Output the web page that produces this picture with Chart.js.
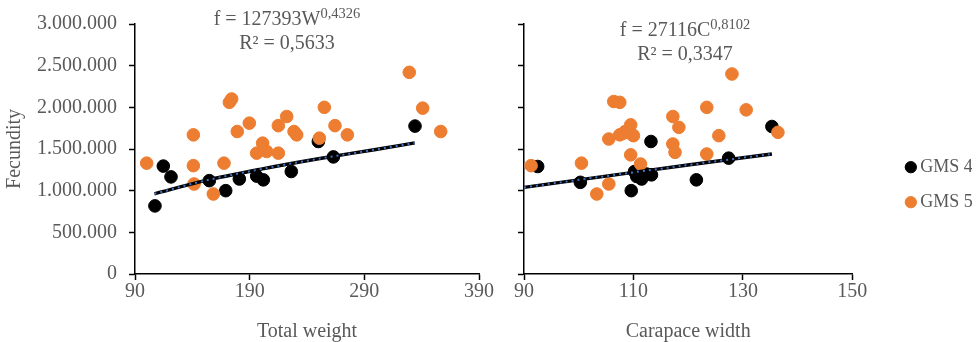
<!DOCTYPE html>
<html>
<head>
<meta charset="utf-8">
<script src="https://cdn.jsdelivr.net/npm/chart.js@4.4.1/dist/chart.umd.min.js"></script>
<style>
  body { margin: 0; background: #fff; }
  #wrap { position: relative; width: 979px; height: 342px; }
  #c1 { position: absolute; left: 0; top: 0; }
  #c2 { position: absolute; left: 500px; top: 0; }
</style>
</head>
<body>
<div id="wrap">
  <canvas id="c1" width="500" height="342"></canvas>
  <canvas id="c2" width="479" height="342"></canvas>
</div>
<script>
// chart data
const seriesNames = ['GMS 4', 'GMS 5'];

// total weight vs fecundity
const weightGms4 = [107.4, 114.7, 121.4, 154.8, 169.1, 181.0, 196.1, 201.9, 226.3, 249.9, 263.0, 334.2];
const fecWGms4   = [817000, 1295000, 1165000, 1120000, 1000000, 1140000, 1175000, 1130000, 1230000, 1590000, 1405000, 1775000];
const weightGms5 = [100.2, 140.9, 140.9, 141.5, 158.3, 167.6, 172.3, 174.3, 179.2, 189.7, 196.1, 201.3, 204.8,
                    215.0, 215.0, 222.3, 228.7, 231.0, 250.8, 255.1, 264.4, 275.2, 329.2, 340.9, 356.6];
const fecWGms5   = [1330000, 1670000, 1300000, 1080000, 960000, 1330000, 2060000, 2100000, 1710000, 1810000, 1450000, 1570000, 1470000,
                    1780000, 1450000, 1890000, 1710000, 1670000, 1630000, 2000000, 1780000, 1670000, 2420000, 1990000, 1710000];
const trendWx = [107, 150, 200, 250, 300, 334];
const trendWy = [962000, 1117000, 1259000, 1383000, 1494000, 1573000];

// carapace width vs fecundity
const cwGms4   = [92.5, 100.3, 109.6, 110.2, 110.6, 111.5, 112.4, 113.3, 113.2, 121.5, 127.4, 135.3];
const fecCGms4 = [1290000, 1100000, 1000000, 1230000, 1170000, 1140000, 1200000, 1190000, 1590000, 1130000, 1390000, 1770000];
const cwGms5   = [91.3, 100.5, 103.3, 105.5, 105.5, 106.4, 107.5, 107.5, 108.5, 109.5, 109.8, 109.5, 111.3,
                  117.2, 118.3, 117.2, 117.6, 123.4, 123.4, 125.6, 128.0, 130.6, 136.4, 108.2, 110.0];
const fecCGms5 = [1300000, 1330000, 960000, 1080000, 1620000, 2070000, 2060000, 1670000, 1710000, 1790000, 1670000, 1430000, 1320000,
                  1890000, 1760000, 1560000, 1460000, 2000000, 1440000, 1660000, 2400000, 1970000, 1700000, 1690000, 1660000];
const trendCx = [90, 100, 110, 120, 130, 135.3];
const trendCy = [1039000, 1130000, 1220000, 1308000, 1395000, 1440000];

const eqnW = { base: 'f = 127393W', sup: '0,4326', r2: 'R² = 0,5633' };
const eqnC = { base: 'f = 27116C', sup: '0,8102', r2: 'R² = 0,3347' };

const yTicks = [0, 500000, 1000000, 1500000, 2000000, 2500000, 3000000];

const FONT = '"Liberation Serif", "Times New Roman", serif';
const GREY = '#595959';

function pts(xs, ys) {
  return xs.map((x, i) => ({ x: x, y: ys[i] }));
}
function dots(n) {
  return String(n).replace(/\B(?=(\d{3})+(?!\d))/g, '.');
}

// draws the trend equation + R² as text at the top of the plot
const eqnPlugin = {
  id: 'eqn',
  afterDraw(chart, args, opts) {
    const ctx = chart.ctx;
    ctx.save();
    ctx.fillStyle = GREY;
    ctx.textBaseline = 'alphabetic';
    ctx.font = '20px ' + FONT;
    const wb = ctx.measureText(opts.base).width;
    ctx.font = '14.5px ' + FONT;
    const ws = ctx.measureText(opts.sup).width;
    const x0 = opts.x - (wb + ws) / 2;
    ctx.textAlign = 'left';
    ctx.font = '20px ' + FONT;
    ctx.fillText(opts.base, x0, opts.y1);
    ctx.font = '14.5px ' + FONT;
    ctx.fillText(opts.sup, x0 + wb, opts.y1 - 7);
    ctx.font = '20px ' + FONT;
    ctx.textAlign = 'center';
    ctx.fillText(opts.r2, opts.x, opts.y2);
    ctx.restore();
  }
};

function makeDatasets(x4, y4, x5, y5, tx, ty) {
  return [
    { label: seriesNames[0], data: pts(x4, y4), backgroundColor: '#000000', borderColor: '#000000',
      pointRadius: 6.3, pointHoverRadius: 6.3, order: 3 },
    { label: seriesNames[1], data: pts(x5, y5), backgroundColor: '#ED7D31', borderColor: '#ED7D31',
      pointRadius: 6.3, pointHoverRadius: 6.3, order: 2 },
    { label: 'trend', data: pts(tx, ty), showLine: true, pointRadius: 0, borderColor: '#000000',
      borderWidth: 3.4, cubicInterpolationMode: 'monotone', order: 1 },
    { label: 'trend2', data: pts(tx, ty), showLine: true, pointRadius: 0, borderColor: '#4472C4',
      borderWidth: 2, borderDash: [2, 4], cubicInterpolationMode: 'monotone', order: 0 }
  ];
}

function xAxis(min, max, step, title) {
  return {
    type: 'linear', min: min, max: max,
    grid: { display: true, drawOnChartArea: false, drawTicks: true, tickLength: 6, color: '#000', tickWidth: 1.5 },
    border: { color: '#000', width: 1.5 },
    ticks: { stepSize: step, color: GREY, font: { family: FONT, size: 20 }, padding: 0, maxRotation: 0 },
    title: { display: true, text: title, color: GREY, font: { family: FONT, size: 20 }, padding: { top: 0, bottom: -4 } },
    afterFit(s) { s.height = 66; }
  };
}

function yAxis(showLabels, width) {
  return {
    type: 'linear', min: 0, max: 3000000,
    afterBuildTicks(s) { s.ticks = yTicks.map(v => ({ value: v })); },
    grid: { display: true, drawOnChartArea: false, drawTicks: true, tickLength: 6, color: '#000', tickWidth: 1.5 },
    border: { color: '#000', width: 1.5 },
    ticks: { color: GREY, font: { family: FONT, size: 20 }, padding: 12,
             callback: v => showLabels ? dots(v) : '' },
    title: { display: showLabels, text: 'Fecundity', color: GREY, font: { family: FONT, size: 20 }, padding: { top: 3, bottom: 0 } },
    afterFit(s) { s.width = width; }
  };
}

Chart.defaults.animation = false;

new Chart(document.getElementById('c1'), {
  type: 'scatter',
  data: { datasets: makeDatasets(weightGms4, fecWGms4, weightGms5, fecWGms5, trendWx, trendWy) },
  options: {
    responsive: false,
    layout: { padding: { top: 21, right: 21, bottom: 2, left: 0 } },
    scales: { x: xAxis(90, 390, 100, 'Total weight'), y: yAxis(true, 135) },
    plugins: {
      legend: { display: false },
      tooltip: { enabled: false },
      eqn: { x: 287, y1: 25, y2: 49, base: eqnW.base, sup: eqnW.sup, r2: eqnW.r2 }
    }
  },
  plugins: [eqnPlugin]
});

new Chart(document.getElementById('c2'), {
  type: 'scatter',
  data: { datasets: makeDatasets(cwGms4, fecCGms4, cwGms5, fecCGms5, trendCx, trendCy) },
  options: {
    responsive: false,
    layout: { padding: { top: 21, right: 7, bottom: 2, left: 0 } },
    scales: {
      x: xAxis(90, 150, 20, 'Carapace width'),
      y: yAxis(false, 24),
      gap: { type: 'linear', position: 'right', display: true, min: 0, max: 1,
             grid: { display: false }, border: { display: false }, ticks: { display: false },
             afterFit(s) { s.width = 41; } }
    },
    plugins: {
      legend: {
        display: true, position: 'right', align: 'center',
        title: { display: true, text: ' ', font: { size: 7 }, padding: { top: 0, bottom: 0 } },
        labels: {
          usePointStyle: true, pointStyle: 'circle', boxWidth: 1, boxHeight: 8, padding: 17,
          color: GREY, font: { family: FONT, size: 18 },
          filter: item => seriesNames.includes(item.text),
          sort: (a, b) => a.datasetIndex - b.datasetIndex
        }
      },
      tooltip: { enabled: false },
      eqn: { x: 185, y1: 36, y2: 60, base: eqnC.base, sup: eqnC.sup, r2: eqnC.r2 }
    }
  },
  plugins: [eqnPlugin]
});
</script>
</body>
</html>
